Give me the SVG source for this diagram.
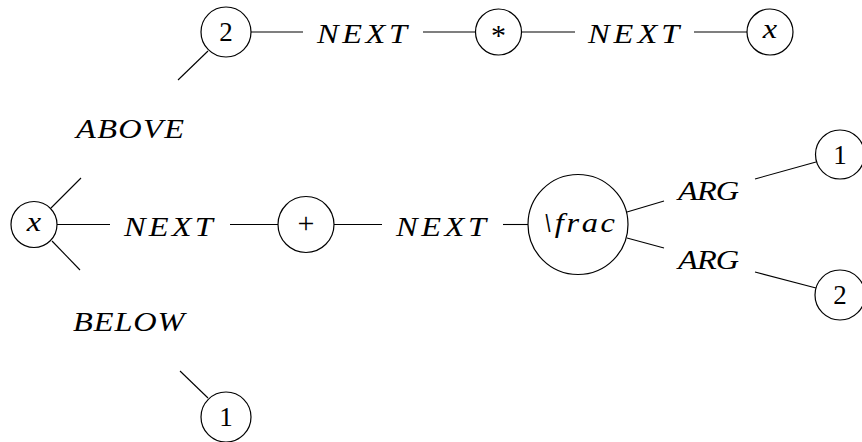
<svg xmlns="http://www.w3.org/2000/svg" width="862" height="442" viewBox="0 0 862 442">
<style>
.n{fill:none;stroke:#000;stroke-width:1.2}
.c line{stroke:#000;stroke-width:1.1}
.m{text-anchor:middle}
</style>
<rect width="862" height="442" fill="#fff"/>
<g class="c" id="connectors">
<line x1="251" y1="32" x2="303" y2="32"/>
<line x1="423" y1="32" x2="476" y2="32"/>
<line x1="521" y1="32" x2="575" y2="32"/>
<line x1="694" y1="32" x2="747" y2="32"/>
<line x1="208" y1="51" x2="178" y2="80"/>
<line x1="81" y1="178" x2="51" y2="208"/>
<line x1="57" y1="224.5" x2="110" y2="224.5"/>
<line x1="230" y1="224.5" x2="278" y2="224.5"/>
<line x1="334" y1="224.5" x2="382" y2="224.5"/>
<line x1="503" y1="224.5" x2="528" y2="224.5"/>
<line x1="627" y1="212" x2="664" y2="201"/>
<line x1="755" y1="179" x2="816" y2="162"/>
<line x1="627" y1="238" x2="664" y2="248"/>
<line x1="755" y1="272" x2="816" y2="288"/>
<line x1="52" y1="241" x2="80" y2="270"/>
<line x1="180" y1="371" x2="208" y2="398"/>
</g>
<g font-family="Liberation Serif, Times New Roman, serif" font-size="27" fill="#000">
<g id="n2top"><circle class="n" cx="226" cy="32" r="25"/><text class="m" x="226" y="41">2</text></g>
<g id="lbl-next1" font-style="italic"><text transform="translate(317,43) scale(1.2,1)" textLength="75" lengthAdjust="spacing">NEXT</text></g>
<g id="nast"><circle class="n" cx="498.5" cy="32" r="23"/><text class="m" x="498.5" y="45" font-size="30">*</text></g>
<g id="lbl-next2" font-style="italic"><text transform="translate(588,43) scale(1.2,1)" textLength="76" lengthAdjust="spacing">NEXT</text></g>
<g id="nxtop"><circle class="n" cx="770" cy="32" r="23"/><text class="m" font-style="italic" transform="translate(770,38) scale(1.2,1)">x</text></g>
<g id="lbl-above" font-style="italic"><text transform="translate(76,137.5) scale(1.2,1)" textLength="90" lengthAdjust="spacing">ABOVE</text></g>
<g id="nxmid"><circle class="n" cx="34" cy="224.5" r="23"/><text class="m" font-style="italic" transform="translate(34,231) scale(1.2,1)">x</text></g>
<g id="lbl-next3" font-style="italic"><text transform="translate(124,235.5) scale(1.2,1)" textLength="74" lengthAdjust="spacing">NEXT</text></g>
<g id="nplus"><circle class="n" cx="306" cy="224.5" r="28"/><text class="m" x="306" y="233" font-size="30">+</text></g>
<g id="lbl-next4" font-style="italic"><text transform="translate(396,235.5) scale(1.2,1)" textLength="75" lengthAdjust="spacing">NEXT</text></g>
<g id="nfrac"><circle class="n" cx="578" cy="224.5" r="50"/><text font-style="italic" transform="translate(543,232) scale(1.2,1)" textLength="60" lengthAdjust="spacing">\frac</text></g>
<g id="lbl-arg1" font-style="italic"><text transform="translate(678,200) scale(1.2,1)" textLength="51" lengthAdjust="spacing">ARG</text></g>
<g id="lbl-arg2" font-style="italic"><text transform="translate(678,269) scale(1.2,1)" textLength="51" lengthAdjust="spacing">ARG</text></g>
<g id="n1right"><circle class="n" cx="840" cy="154.5" r="24.5"/><text class="m" x="840" y="163.5">1</text></g>
<g id="n2right"><circle class="n" cx="840" cy="295" r="25"/><text class="m" x="840" y="304">2</text></g>
<g id="lbl-below" font-style="italic"><text transform="translate(73,331) scale(1.2,1)" textLength="93" lengthAdjust="spacing">BELOW</text></g>
<g id="n1bottom"><circle class="n" cx="226" cy="417" r="25"/><text class="m" x="226" y="426">1</text></g>
</g>
</svg>
